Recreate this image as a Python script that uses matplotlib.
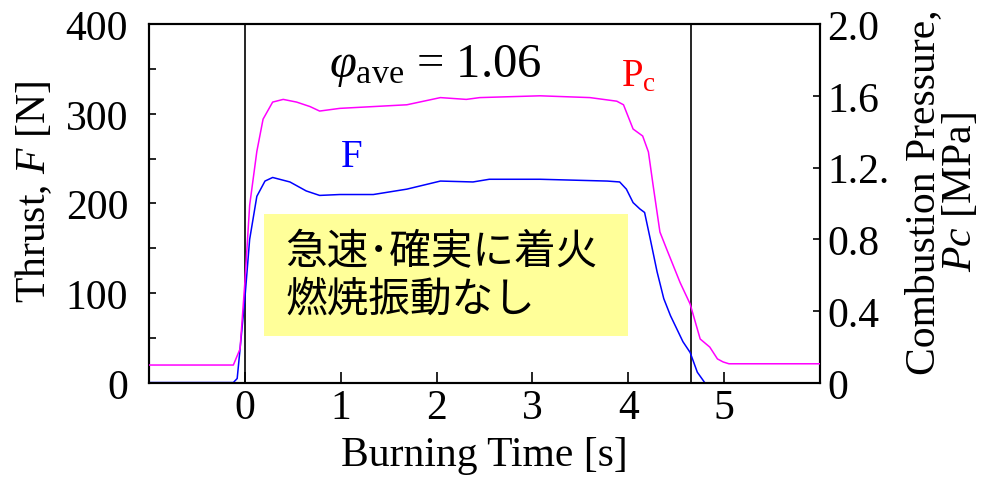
import matplotlib
matplotlib.use("Agg")
import matplotlib.pyplot as plt
from matplotlib.patches import Rectangle

plt.rcParams["font.family"] = ["Liberation Serif", "DejaVu Serif"]
plt.rcParams["mathtext.fontset"] = "custom"
plt.rcParams["mathtext.rm"] = "Liberation Serif"
plt.rcParams["mathtext.it"] = "Liberation Serif:italic"

# combustion pressure Pc [MPa]
t_pc = [-1.0, -0.12, -0.05, 0.0, 0.05, 0.125, 0.19, 0.29, 0.40, 0.54, 0.68, 0.78,
        0.99, 1.34, 1.69, 2.04, 2.31, 2.45, 3.08, 3.6, 3.88, 3.95, 4.05, 4.15,
        4.21, 4.26, 4.33, 4.40, 4.54, 4.61, 4.645, 4.75, 4.85, 4.93, 4.99, 5.05, 6.0]
pc = [0.10, 0.10, 0.19, 0.56, 0.99, 1.29, 1.47, 1.565, 1.58, 1.565, 1.54, 1.515,
      1.53, 1.54, 1.55, 1.59, 1.58, 1.59, 1.60, 1.59, 1.57, 1.55, 1.415, 1.376,
      1.287, 1.097, 0.841, 0.746, 0.56, 0.48, 0.44, 0.245, 0.20, 0.134, 0.117, 0.107, 0.107]

# thrust F [N]
t_f = [-1.0, -0.12, -0.08, -0.05, 0.0, 0.05, 0.125, 0.21, 0.29, 0.47, 0.64, 0.78,
       0.99, 1.34, 1.69, 2.04, 2.38, 2.55, 3.08, 3.78, 3.91, 3.98, 4.05, 4.12,
       4.17, 4.23, 4.30, 4.37, 4.44, 4.57, 4.645, 4.72, 4.80]
thrust = [0.5, 0.5, 5, 38, 94, 160, 208, 225, 229, 224, 214, 209,
          210, 210, 216, 225, 224, 227, 227, 225, 224, 216, 201, 194,
          190, 160, 124, 94, 75, 46, 34, 12, 0]

burn_marks = [0.0, 4.65]
x_ticks = [0, 1, 2, 3, 4, 5]
f_ticks = [0, 100, 200, 300, 400]
f_minor = [50, 150, 250, 350]
pc_ticks = [0, 0.4, 0.8, 1.2, 1.6, 2.0]
pc_labels = ["0", "0.4", "0.8", "1.2.", "1.6", "2.0"]

fig = plt.figure(figsize=(9.9, 4.81), dpi=100)
ax = fig.add_axes([0.1505, 0.2017, 0.6778, 0.7463])
ax2 = ax.twinx()

ax.plot(t_f, thrust, color="#0000ff", lw=1.1, zorder=3)
ax2.plot(t_pc, pc, color="#ff00ff", lw=1.1, zorder=3)
for xm in burn_marks:
    ax.axvline(xm, color="black", lw=1.2, zorder=2)

ax.set_xlim(-1, 6)
ax.set_ylim(0, 400)
ax2.set_ylim(0, 2.0)

ax.set_xticks(x_ticks)
ax.set_yticks(f_ticks)
ax.set_yticks(f_minor, minor=True)
ax2.set_yticks(pc_ticks)
ax2.set_yticklabels(pc_labels)

for a in (ax, ax2):
    for s in a.spines.values():
        s.set_linewidth(1.5)
ax.tick_params(axis="x", direction="in", length=8, width=1.2, labelsize=30, pad=4)
ax.tick_params(axis="y", which="both", direction="in", length=5, width=1.2, labelsize=30, pad=15)
ax2.tick_params(axis="y", direction="in", length=5, width=1.2, labelsize=30, pad=5)

ax.set_xlabel("Burning Time [s]", fontsize=30, labelpad=6)
fig.text(0.034, 0.6, r"Thrust, $F$ [N]", fontsize=30, rotation=90, ha="center", va="center")
fig.text(0.952, 0.6, "Combustion Pressure,\n" + r"$Pc$ [MPa]", fontsize=30, rotation=90,
         ha="center", va="center", multialignment="center", linespacing=0.95)

ax.text(0.426, 0.885, r"$\varphi_{\rm ave}$ = 1.06", transform=ax.transAxes,
        fontsize=35, ha="center", va="center")
ax.text(0.302, 0.63, "F", transform=ax.transAxes, fontsize=28, color="#0000ff",
        ha="center", va="center")
ax.text(0.73, 0.855, r"P$_{\rm c}$", transform=ax.transAxes, fontsize=28, color="#ff0000",
        ha="center", va="center")

ax.add_patch(Rectangle((0.171, 0.131), 0.543, 0.34, transform=ax.transAxes,
                       facecolor="#ffff99", edgecolor="none", zorder=4))
jp = ["Noto Sans CJK JP", "DejaVu Sans"]
ax.text(0.203, 0.365, "急速･確実に着火", transform=ax.transAxes, fontsize=30,
        family=jp, ha="left", va="center", zorder=5)
ax.text(0.203, 0.234, "燃焼振動なし", transform=ax.transAxes, fontsize=30,
        family=jp, ha="left", va="center", zorder=5)

fig.savefig("out.png", dpi=100)
